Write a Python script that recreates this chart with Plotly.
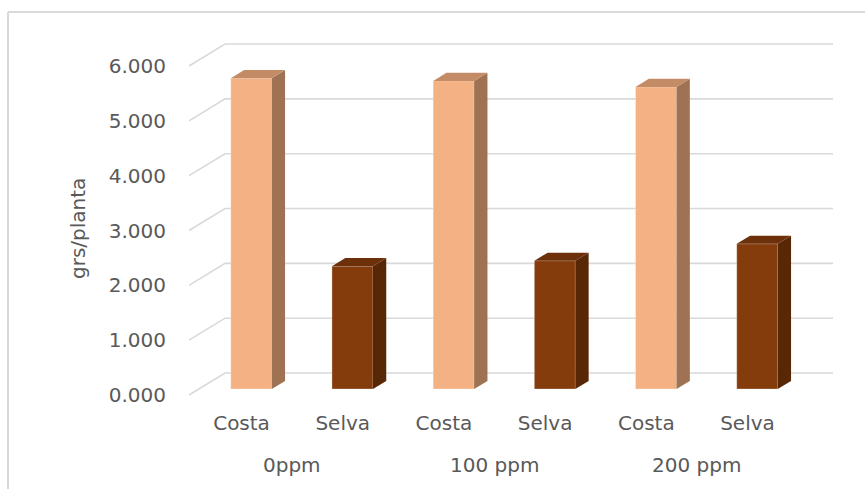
import plotly.graph_objects as go

# ---- data -------------------------------------------------------------
groups = ["0ppm", "100 ppm", "200 ppm"]
varieties = ["Costa", "Selva"]
costa = [5.67, 5.62, 5.51]
selva = [2.24, 2.34, 2.65]
y_ticks = [0, 1, 2, 3, 4, 5, 6]

face_colors = {
    "Costa": {"front": "#F4B183", "side": "#9E7252", "top": "#C48C66"},
    "Selva": {"front": "#843C0C", "side": "#582806", "top": "#6C310A"},
}

# ---- oblique 3-D geometry, in axis units --------------------------------
DEPTH_X = 0.356      # horizontal shift from front plane to back wall
DEPTH_Y = 0.401      # vertical shift from front plane to back wall
BAR_FRONT = 0.27     # depth fraction of the bar front face
BAR_BACK = 0.64      # depth fraction of the bar back face
BAR_W = 0.405
X_MIN, X_MAX = -0.519, 5.845
Y_MIN, Y_MAX = -0.0912, 6.657

W, H = 865, 489
ML, MR, MT, MB = 189, 32, 30, 89
PW, PH = W - ML - MR, H - MT - MB


def px_x(p):
    return (p - ML) / PW


def px_y(p):
    return (H - MB - p) / PH


GRID = "#D9D9D9"
TEXT = "#595959"
FONT = "DejaVu Sans"
FS = 20

fig = go.Figure()
shapes = []

# back-wall gridlines with their diagonal side-wall run (kept under the bars)
for v in y_ticks:
    shapes.append(dict(
        type="path", xref="x", yref="y", layer="below",
        path=f"M{X_MIN},{v} L{X_MIN + DEPTH_X},{v + DEPTH_Y} L{X_MAX},{v + DEPTH_Y}",
        line=dict(color=GRID, width=1.6)))

# bars: front face as a bar trace, side and top faces as filled polygons
for g, grp in enumerate(groups):
    for k, var in enumerate(varieties):
        i = 2 * g + k
        val = costa[g] if var == "Costa" else selva[g]
        cols = face_colors[var]
        xc = i + BAR_FRONT * DEPTH_X
        base = BAR_FRONT * DEPTH_Y
        top = base + val
        xl, xr = xc - BAR_W / 2, xc + BAR_W / 2
        ddx = (BAR_BACK - BAR_FRONT) * DEPTH_X
        ddy = (BAR_BACK - BAR_FRONT) * DEPTH_Y
        # side face
        fig.add_trace(go.Scatter(
            x=[xr, xr + ddx, xr + ddx, xr, xr],
            y=[base, base + ddy, top + ddy, top, base],
            fill="toself", fillcolor=cols["side"], mode="lines",
            line=dict(width=0, color=cols["side"]),
            hoverinfo="skip", showlegend=False))
        # top face
        fig.add_trace(go.Scatter(
            x=[xl, xr, xr + ddx, xl + ddx, xl],
            y=[top, top, top + ddy, top + ddy, top],
            fill="toself", fillcolor=cols["top"], mode="lines",
            line=dict(width=0, color=cols["top"]),
            hoverinfo="skip", showlegend=False))
        # front face
        fig.add_trace(go.Bar(
            x=[xc], y=[val], base=[base], width=BAR_W,
            marker=dict(color=cols["front"],
                        line=dict(width=0.6, color="rgba(255,255,255,0.5)")),
            name=var, showlegend=False, hoverinfo="skip"))

# group labels under the category labels
annotations = []
for g, grp in enumerate(groups):
    annotations.append(dict(
        x=2 * g + 0.5, y=px_y(465), xref="x", yref="paper",
        text=grp, showarrow=False, xanchor="center", yanchor="middle",
        font=dict(family=FONT, size=FS, color=TEXT)))

# value axis title
annotations.append(dict(
    x=px_x(78), y=px_y(229), xref="paper", yref="paper",
    text="grs/planta", textangle=-90, showarrow=False,
    xanchor="center", yanchor="middle",
    font=dict(family=FONT, size=FS, color=TEXT)))

# chart-area border (top and left edges)
shapes += [
    dict(type="line", xref="paper", yref="paper",
         x0=px_x(8), x1=px_x(W + 5), y0=px_y(12), y1=px_y(12),
         line=dict(color=GRID, width=2)),
    dict(type="line", xref="paper", yref="paper",
         x0=px_x(8), x1=px_x(8), y0=px_y(12), y1=px_y(H + 5),
         line=dict(color=GRID, width=2)),
]

cat_labels = [v for _ in groups for v in varieties]

fig.update_layout(
    width=W, height=H, autosize=False,
    margin=dict(l=ML, r=MR, t=MT, b=MB, pad=0),
    paper_bgcolor="white", plot_bgcolor="white",
    barmode="overlay",
    annotations=annotations, shapes=shapes,
    xaxis=dict(range=[X_MIN, X_MAX], showgrid=False, zeroline=False,
               showline=False, tickmode="array",
               tickvals=list(range(len(cat_labels))), ticktext=cat_labels,
               ticks="", ticklabelstandoff=9,
               tickfont=dict(family=FONT, size=FS, color=TEXT)),
    yaxis=dict(range=[Y_MIN, Y_MAX], showgrid=False, zeroline=False,
               showline=False, tickmode="array", tickvals=y_ticks,
               tickformat=".3f", ticks="", ticklabelstandoff=22,
               tickfont=dict(family=FONT, size=FS, color=TEXT)),
    hovermode=False,
)

fig.write_html("out.html")
